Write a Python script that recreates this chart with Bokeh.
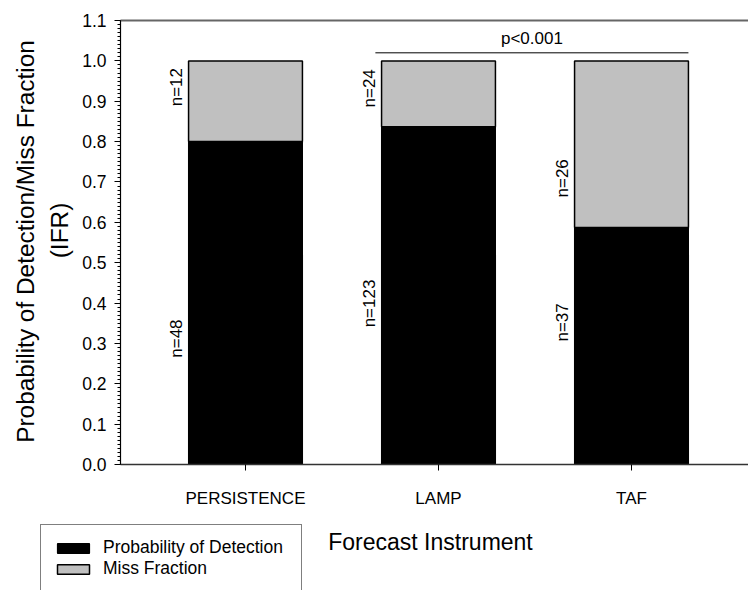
import math
from bokeh.plotting import figure
from bokeh.models import FixedTicker, Legend, LegendItem, ColumnDataSource
from bokeh.core.properties import value
from bokeh.embed import file_html
from bokeh.resources import INLINE

# ---- data ----
instruments = ["PERSISTENCE", "LAMP", "TAF"]
pod = [0.800, 0.837, 0.587]          # Probability of Detection
n_pod = [48, 123, 37]
n_miss = [12, 24, 26]
# label centres (y in data units)
pod_label_y = [0.312, 0.399, 0.352]
miss_label_y = [0.935, 0.932, 0.709]
y_ticks = [0.0, 0.1, 0.2, 0.3, 0.4, 0.5, 0.6, 0.7, 0.8, 0.9, 1.0, 1.1]
sig_text = "p<0.001"
x_title = "Forecast Instrument"
y_title_1 = "Probability of Detection/Miss Fraction"
y_title_2 = "(IFR)"

FONT = "Liberation Sans"
GREY = "#c0c0c0"
BAR_W = 0.59

# ---- layout (page pixels) ----
W, H = 748, 590
CX, CY = 0, 0            # page position of the canvas
Y0_PX, PX_PER_Y = 464, 403.6     # page y of value 0, pixels per unit
X1_PX, PX_PER_X = 245, 193       # page x of first category, pixels per category
AXIS_LEFT_PX = 120


def dx(px):
    return 1 + (px - X1_PX) / PX_PER_X


def dy(py):
    return (Y0_PX - py) / PX_PER_Y


x_start, x_end = dx(CX), dx(CX + W)
y_start, y_end = dy(CY + H), dy(CY)
AXIS_X = dx(AXIS_LEFT_PX)

xs = [i + 1 for i in range(len(instruments))]
miss_top = [1.0] * len(instruments)

p = figure(width=W, height=H, output_backend="svg", toolbar_location=None,
           x_range=(x_start, x_end), y_range=(y_start, y_end),
           min_border=0)
p.background_fill_color = "white"
p.border_fill_color = "white"
p.outline_line_color = None
p.grid.visible = False

src = ColumnDataSource(dict(x=xs, pod=pod, top=miss_top))
r_pod = p.vbar(x="x", width=BAR_W, bottom=0, top="pod", source=src,
               fill_color="black", line_color="black", line_width=1.2)
r_miss = p.vbar(x="x", width=BAR_W, bottom="pod", top="top", source=src,
                fill_color=GREY, line_color="black", line_width=1.5)

# n labels
lab_x = [x - 0.355 for x in xs]
txt = dict(text_font=value(FONT), text_color="black")
p.text(x=lab_x, y=pod_label_y, text=[f"n={n}" for n in n_pod], angle=math.pi / 2,
       text_align="center", text_baseline="middle", text_font_size="17px", **txt)
p.text(x=lab_x, y=miss_label_y, text=[f"n={n}" for n in n_miss], angle=math.pi / 2,
       text_align="center", text_baseline="middle", text_font_size="17px", **txt)

# significance bracket LAMP..TAF
x0 = xs[1] - 0.327
x1 = xs[2] + BAR_W / 2
p.line(x=[x0, x1], y=[1.02, 1.02], line_color="black", line_width=1)
p.text(x=[(x0 + x1) / 2], y=[1.055], text=[sig_text], text_align="center",
       text_baseline="middle", text_font_size="17px", **txt)

# top frame line
p.line(x=[AXIS_X, x_end], y=[y_ticks[-1], y_ticks[-1]], line_color="#666666", line_width=2)

# axis titles
p.text(x=[dx(430)], y=[dy(541)], text=[x_title], text_align="center",
       text_baseline="middle", text_font_size="23px", **txt)
p.text(x=[dx(25)], y=[dy(241)], text=[y_title_1], angle=math.pi / 2,
       text_align="center", text_baseline="middle", text_font_size="24.4px", **txt)
p.text(x=[dx(59)], y=[dy(230)], text=[y_title_2], angle=math.pi / 2,
       text_align="center", text_baseline="middle", text_font_size="24.4px", **txt)

# axes
xa = p.xaxis[0]
xa.fixed_location = 0
xa.bounds = (AXIS_X, x_end)
xa.ticker = FixedTicker(ticks=xs)
xa.major_label_overrides = {x: n for x, n in zip(xs, instruments)}
xa.minor_tick_line_color = None
xa.major_tick_in = 0
xa.major_tick_out = 6
xa.major_label_standoff = 18
xa.major_label_text_font = FONT
xa.major_label_text_font_size = "17px"
xa.major_label_text_color = "black"
xa.axis_line_color = "#333333"
xa.axis_line_width = 1.5

ya = p.yaxis[0]
ya.fixed_location = AXIS_X
ya.bounds = (0, y_ticks[-1])
ya.ticker = FixedTicker(ticks=y_ticks,
                        minor_ticks=[round(i * 0.01, 2) for i in range(0, 111)])
ya.major_label_overrides = {t: f"{t:.1f}" for t in y_ticks}
ya.major_tick_in = 0
ya.major_tick_out = 6
ya.minor_tick_in = 0
ya.minor_tick_out = 3
ya.major_label_standoff = 8
ya.major_label_text_font = FONT
ya.major_label_text_font_size = "17.5px"
ya.major_label_text_color = "black"
ya.axis_line_color = "black"
ya.axis_line_width = 1.2

legend = Legend(items=[LegendItem(label="Probability of Detection", renderers=[r_pod]),
                       LegendItem(label="Miss Fraction", renderers=[r_miss])],
                location=(40 - CX, H - (528 - CY) - 64))
legend.glyph_width = 40
legend.glyph_height = 12
legend.label_height = 20
legend.label_width = 186
legend.label_standoff = 10
legend.spacing = 0
legend.padding = 12
legend.margin = 0
legend.label_text_font = FONT
legend.label_text_font_size = "17.5px"
legend.label_text_color = "black"
legend.border_line_color = "black"
legend.border_line_width = 1
legend.background_fill_color = "white"
legend.background_fill_alpha = 1
p.add_layout(legend, "center")

open("out.html", "w").write(file_html(p, INLINE))
